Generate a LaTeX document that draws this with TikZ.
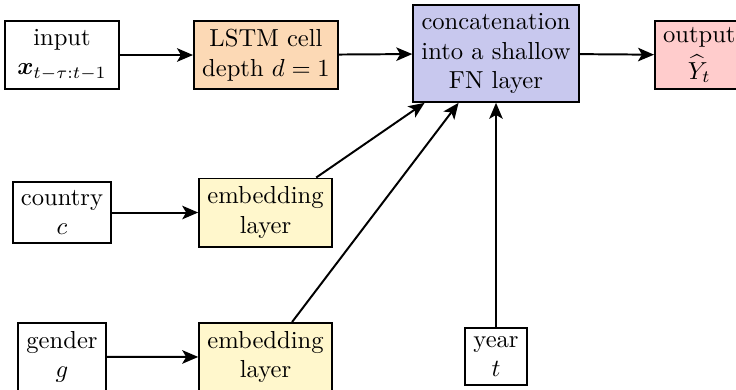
\documentclass[tikz,border=0pt]{standalone}
\usepackage{amsmath}
\usetikzlibrary{arrows.meta}
\definecolor{lstmfill}{RGB}{252,217,181}
\definecolor{concatfill}{RGB}{200,200,238}
\definecolor{outfill}{RGB}{255,204,204}
\definecolor{embfill}{RGB}{255,247,204}
\tikzset{
  box/.style={draw, thick, align=center, inner sep=3.333pt},
  conn/.style={thick, -{Stealth[length=6.5pt,width=5.5pt,inset=1.6pt]}},
}
\begin{document}
\begin{tikzpicture}[x=0.4065pt, y=-0.4065pt]
  \useasboundingbox (0,0) rectangle (736,389);

  % top row
  \node[box, inner xsep=5pt] (in) at (62,55) {input\\$\boldsymbol{x}_{t-\tau:t-1}$};
  \node[box, fill=lstmfill] (lstm) at (266,55) {LSTM cell\\depth $d=1$};
  \node[box, fill=concatfill] (cat) at (496,53.5) {concatenation\\into a shallow\\FN layer};
  \node[box, fill=outfill, anchor=west, inner xsep=1.2pt, inner ysep=2.5pt,
        minimum width=36pt] (out) at (654,55) {output\\[3pt]$\widehat{Y}_t$};

  % middle row
  \node[box] (country) at (62,212.5) {country\\$c$};
  \node[box, fill=embfill] (embc) at (265.5,212.5) {embedding\\layer};

  % bottom row
  \node[box, anchor=north] (gender) at (62,322) {gender\\$g$};
  \node[box, fill=embfill, anchor=north] (embg) at (265.5,322) {embedding\\layer};
  \node[box, anchor=north] (year) at (496,327) {year\\$t$};

  % connectors
  \draw[conn] (in) -- (lstm);
  \draw[conn] (lstm) -- (cat);
  \draw[conn] (cat) -- (out);
  \draw[conn] (country) -- (embc);
  \draw[conn] (gender) -- (embg);
  \draw[conn] (embc) -- (cat);
  \draw[conn] (embg) -- (cat);
  \draw[conn] (year) -- (cat);
\end{tikzpicture}
\end{document}
